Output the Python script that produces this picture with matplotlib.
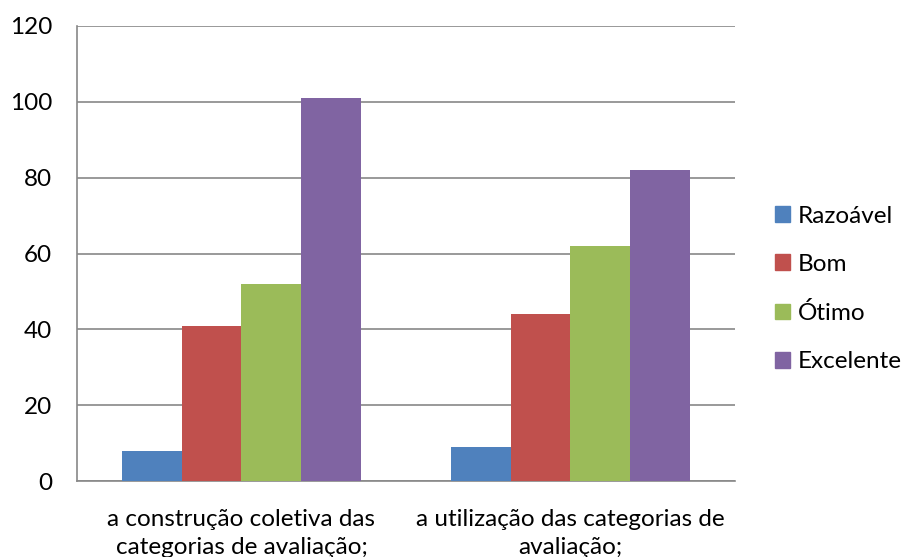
import numpy as np
import matplotlib
matplotlib.use("Agg")
import matplotlib.pyplot as plt
from matplotlib.patches import Patch

plt.rcParams['font.family'] = ['Lato', 'DejaVu Sans']

categories = ["a construção coletiva das\ncategorias de avaliação;",
              "a utilização das categorias de\navaliação;"]
series = ["Razoável", "Bom", "Ótimo", "Excelente"]
values = {
    "Razoável": [8, 9],
    "Bom": [41, 44],
    "Ótimo": [52, 62],
    "Excelente": [101, 82],
}
colors = ["#4f81bd", "#c0504d", "#9bbb59", "#8064a2"]
yticks = [0, 20, 40, 60, 80, 100, 120]

FS = 17.5

fig = plt.figure(figsize=(9.04, 5.57), dpi=100)
ax = fig.add_axes([77 / 904, 1 - 481 / 557, (735 - 77) / 904, (481 - 26) / 557])

x = np.arange(len(categories))
w = 0.182
for i, (s, c) in enumerate(zip(series, colors)):
    ax.bar(x + (i - 1.5) * w, values[s], width=w, color=c, zorder=3)

ax.set_xlim(-0.5, 1.5)
ax.set_ylim(0, 120)
ax.set_yticks(yticks)
ax.yaxis.grid(True, color="#888888", lw=1.2, zorder=0)
for sp in ["top", "right"]:
    ax.spines[sp].set_visible(False)
for sp in ["left", "bottom"]:
    ax.spines[sp].set_color("#888888")
    ax.spines[sp].set_linewidth(1.2)
ax.set_xticks(x)
ax.set_xticklabels(categories, fontsize=FS, linespacing=1.4)
ax.tick_params(axis="both", length=0, labelsize=FS)
ax.tick_params(axis="y", pad=18)
ax.tick_params(axis="x", pad=20)

handles = [Patch(color=c, label=s) for s, c in zip(series, colors)]
fig.legend(handles=handles, loc="center left", bbox_to_anchor=(753 / 904, 1 - 289 / 557),
           frameon=False, fontsize=FS, labelspacing=1.12, handlelength=0.62,
           handleheight=0.62, handletextpad=0.33)

fig.savefig("out.png", dpi=100)
